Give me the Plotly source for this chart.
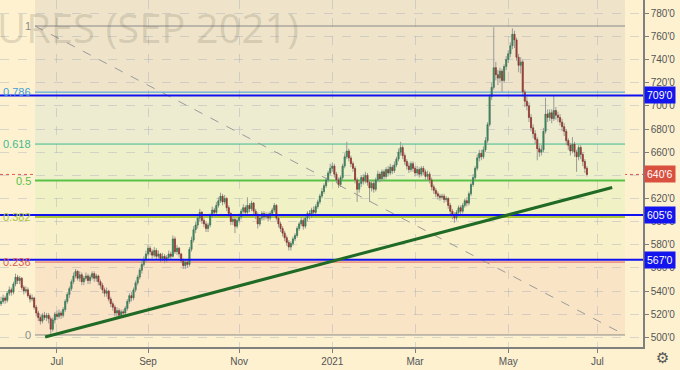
import pandas as pd
import plotly.graph_objects as go

# ---------------- data ----------------
start_date = "2020-05-25"
first_open = 529

closes = [
    531, 534, 532, 538, 541, 539, 546, 552, 549, 551, 543, 540, 541, 536, 533, 534, 526, 521, 517, 514, 519, 517, 519, 516, 507, 515, 520, 518,
    521, 519, 524, 531, 537, 542, 548, 553, 557, 551, 554, 548, 551, 553, 549, 552, 555, 551, 553, 548, 545,
    541, 538, 540, 533, 529, 526, 521, 523, 519, 522, 521, 525, 531, 536, 534, 541, 547, 552, 558, 563, 567, 572, 577, 574,
    571, 575, 570, 572, 568, 570, 567, 569, 572, 570, 585, 574, 577, 572, 566, 562, 565, 563, 576, 584, 593,
    597, 603, 608, 601, 598, 594, 597, 605, 610, 608, 614, 618, 622, 617, 620, 612, 607, 600, 602, 596, 601, 604,
    609, 612, 608, 614, 611, 616, 609, 606, 598, 603, 607, 604, 606, 603, 607, 610, 614, 603, 598, 594, 590, 586, 582, 578, 581, 585, 588, 594, 598, 601, 596,
    603, 607, 605, 610, 608, 613, 617, 622, 626, 631, 636, 642, 646, 648, 641, 636, 632, 638, 648, 656, 661, 655, 650, 646, 636, 628, 633, 638, 635, 640, 634, 629, 633, 628, 636, 641, 637,
    643, 639, 645, 642, 647, 644, 649, 654, 660, 664, 657, 652, 648, 645, 650, 646, 642, 645, 641, 646, 643, 639, 641, 636, 630, 627, 624, 622, 621, 622, 619, 620, 614, 609, 606, 603, 608, 612, 609, 614, 618, 616, 624, 632,
    638, 646, 655, 659, 656, 662, 670, 684, 708, 716, 733, 727, 724, 730, 722, 734, 740, 745, 752, 762, 757, 742, 735, 738, 712, 704, 700, 690, 681, 676, 671, 663, 660, 662, 678, 693, 690, 694, 689, 696, 692, 690, 686, 682, 678, 670, 666, 661, 667, 660, 656, 664, 658, 652, 646, 640.75,
]

highs = [
    535, 537, 536, 540, 544, 543, 548, 555, 554, 553, 552, 545, 544, 543, 538, 537, 535, 528, 523, 519, 521, 522, 521, 521, 518, 517, 522, 523,
    524, 523, 526, 533, 539, 544, 550, 556, 559, 558, 557, 556, 553, 556, 555, 554, 557, 557, 555, 554, 550,
    547, 543, 543, 541, 535, 531, 528, 526, 525, 524, 524, 527, 533, 538, 539, 543, 549, 554, 560, 566, 570, 575, 580, 579,
    576, 578, 577, 575, 573, 573, 572, 571, 575, 574, 588, 587, 580, 578, 573, 568, 567, 567, 578, 587, 596,
    600, 606, 611, 609, 603, 600, 599, 607, 613, 612, 617, 621, 625, 624, 623, 621, 614, 608, 605, 603, 603, 607,
    611, 615, 614, 621, 616, 618, 617, 611, 608, 605, 609, 609, 608, 608, 609, 612, 616, 615, 605, 600, 596, 592, 588, 584, 583, 587, 590, 596, 600, 604, 603,
    605, 609, 610, 612, 613, 615, 619, 624, 629, 633, 638, 644, 650, 651, 650, 643, 638, 640, 650, 659, 669, 663, 657, 652, 648, 638, 635, 640, 641, 643, 642, 636, 635, 635, 638, 644, 643,
    645, 645, 647, 648, 650, 649, 652, 656, 663, 669, 666, 659, 654, 651, 652, 652, 648, 648, 647, 648, 648, 645, 644, 643, 638, 632, 629, 626, 624, 624, 624, 622, 621, 616, 611, 608, 610, 614, 614, 616, 620, 621, 626, 634,
    641, 648, 658, 662, 662, 665, 673, 686, 710, 720, 768, 738, 731, 733, 732, 736, 743, 748, 755, 767, 765, 759, 745, 742, 740, 714, 708, 703, 693, 684, 679, 673, 666, 666, 681, 707, 697, 697, 697, 709, 699, 695, 693, 689, 685, 680, 672, 668, 673, 669, 662, 666, 666, 660, 654, 648,
]

lows = [
    527, 529, 529, 530, 536, 536, 537, 544, 546, 546, 541, 537, 538, 534, 530, 531, 524, 518, 514, 511, 512, 515, 514, 512, 502.5, 505, 512, 515,
    516, 516, 517, 522, 529, 534, 540, 546, 551, 549, 548, 545, 545, 549, 546, 546, 550, 548, 548, 545, 542,
    538, 535, 535, 531, 526, 523, 518, 517, 516, 517, 518, 519, 523, 529, 531, 532, 539, 545, 550, 555, 561, 565, 570, 571,
    568, 569, 567, 568, 565, 566, 564, 565, 567, 567, 569, 572, 571, 569, 564, 559, 559, 560, 561, 574, 582,
    590, 594, 600, 598, 595, 591, 591, 595, 603, 605, 606, 612, 616, 614, 615, 609, 604, 597, 597, 590, 594, 599,
    602, 607, 605, 606, 608, 609, 606, 602, 594, 596, 601, 601, 602, 600, 601, 605, 608, 601, 595, 591, 587, 583, 579, 575, 575, 579, 583, 586, 592, 596, 593,
    594, 600, 602, 603, 605, 606, 611, 615, 620, 624, 629, 634, 640, 643, 638, 633, 629, 630, 636, 646, 654, 652, 647, 643, 633, 617, 625, 630, 632, 633, 631, 617, 626, 625, 626, 634, 634,
    635, 636, 637, 639, 640, 641, 642, 647, 652, 657, 654, 649, 645, 642, 643, 643, 639, 640, 638, 639, 640, 636, 636, 633, 627, 624, 621, 619, 618, 619, 616, 617, 611, 606, 602, 599, 601, 606, 606, 607, 612, 613, 614, 622,
    630, 636, 644, 652, 653, 654, 660, 668, 682, 705, 714, 722, 718, 720, 712, 720, 731, 737, 742, 749, 750, 739, 729, 728, 708, 699, 696, 686, 678, 672, 667, 653, 656, 657, 660, 676, 686, 687, 685, 687, 688, 686, 683, 678, 674, 666, 662, 657, 659, 656, 643, 653, 654, 648, 642, 639,
]

# Fibonacci retracement drawing
fib_low, fib_high = 502.0, 769.0
fib_ratios = [0, 0.236, 0.382, 0.5, 0.618, 0.786, 1]
fib_labels = ["0", "0.236", "0.382", "0.5", "0.618", "0.786", "1"]
fib_line_colors = ["#8a8a8a", "#e05a52", "#a9c43c", "#58c247", "#3dbb8e", "#3f9fd8", "#8a8a8a"]
fib_line_widths = [1, 1, 2, 2, 1, 1, 1]
fib_zone_colors = ["#fae4c6", "#f7f0c9", "#f1f1c6", "#eef0cc", "#eeecd0", "#efe4ca"]
fib_start, fib_end = "2020-06-16 09:36", "2021-07-20 09:36"

# Horizontal levels and current price
level_prices = [709.0, 605.75, 567.0]
level_texts = ["709'0", "605'6", "567'0"]
last_price = 640.75
last_text = "640'6"

# Trend line
trend_x = ["2020-06-23 07:00", "2021-07-12 05:00"]
trend_y = [500.3, 629.5]

# Axis ticks
ytick_vals = list(range(500, 781, 20))
ytick_text = [f"{v}'0" for v in ytick_vals]
xtick_vals = ["2020-07-01", "2020-09-01", "2020-11-02", "2021-01-04", "2021-03-01", "2021-05-03", "2021-07-01"]
xtick_text = ["Jul", "Sep", "Nov", "2021", "Mar", "May", "Jul"]

x_range = ["2020-05-22 12:00", "2021-08-02 02:00"]
y_range = [491.6, 791.5]

# ---------------- figure ----------------
dates = pd.bdate_range(start_date, periods=len(closes))
opens = [first_open] + closes[:-1]
body_hi = [max(o, c) for o, c in zip(opens, closes)]
body_lo = [min(o, c) for o, c in zip(opens, closes)]
highs_c = [max(h, b) for h, b in zip(highs, body_hi)]
lows_c = [min(l, b) for l, b in zip(lows, body_lo)]

BG = "#fdf1d0"
FONT = "Liberation Sans"

fig = go.Figure()

# wicks (gray)
fig.add_trace(go.Candlestick(
    x=dates, open=opens, high=highs_c, low=lows_c, close=closes,
    increasing=dict(line=dict(color="#9a9a96", width=1), fillcolor="#9a9a96"),
    decreasing=dict(line=dict(color="#9a9a96", width=1), fillcolor="#9a9a96"),
    showlegend=False, hoverinfo="skip",
))
# bodies (colored)
fig.add_trace(go.Candlestick(
    x=dates, open=opens, high=body_hi, low=body_lo, close=closes,
    increasing=dict(line=dict(color="#2c7a4e", width=0.5), fillcolor="#3b8f60"),
    decreasing=dict(line=dict(color="#8a2c22", width=0.5), fillcolor="#b53b2d"),
    showlegend=False, hoverinfo="skip",
))

shapes = []
levels = [fib_low + r * (fib_high - fib_low) for r in fib_ratios]
# zones
for k in range(len(levels) - 1):
    y0 = levels[k]
    y1 = levels[k + 1] if k + 1 < len(levels) - 1 else y_range[1] + 10
    shapes.append(dict(type="rect", xref="x", yref="y", x0=fib_start, x1=fib_end,
                       y0=y0, y1=y1, fillcolor=fib_zone_colors[k], line=dict(width=0), layer="below"))
# level lines
for lv, col, w in zip(levels, fib_line_colors, fib_line_widths):
    shapes.append(dict(type="line", xref="x", yref="y", x0=fib_start, x1=fib_end, y0=lv, y1=lv,
                       line=dict(color=col, width=w), layer="between"))
# diagonal of fib drawing
shapes.append(dict(type="line", xref="x", yref="y", x0=fib_start, x1=fib_end,
                   y0=fib_high, y1=fib_low, line=dict(color="#9a9a9a", width=1, dash="dash"), layer="between"))
# current price dotted line
shapes.append(dict(type="line", xref="paper", yref="y", x0=0, x1=1, y0=last_price, y1=last_price,
                   line=dict(color="#e2584a", width=1, dash="dot"), layer="between"))
# blue horizontal levels
for p in level_prices:
    shapes.append(dict(type="line", xref="paper", yref="y", x0=0, x1=1, y0=p, y1=p,
                       line=dict(color="#1010f0", width=2), layer="above"))
# trend line
shapes.append(dict(type="line", xref="x", yref="y", x0=trend_x[0], x1=trend_x[1],
                   y0=trend_y[0], y1=trend_y[1], line=dict(color="#1f6a24", width=3), layer="above"))

annotations = []
# watermark
annotations.append(dict(xref="paper", yref="paper", x=0, y=1, xanchor="left", yanchor="top",
                        xshift=-5, yshift=2, text="URES (SEP 2021)", showarrow=False,
                        font=dict(size=40, color="rgba(110,100,80,0.2)", family="Open Sans")))
# fib labels
for lv, lab, col in zip(levels, fib_labels, fib_line_colors):
    annotations.append(dict(xref="x", yref="y", x=fib_start, y=lv, xanchor="right", yanchor="middle",
                            xshift=-2, text=lab, showarrow=False, font=dict(size=11, color=col, family=FONT)))
# right axis boxes
for p, t in zip(level_prices, level_texts):
    annotations.append(dict(xref="paper", yref="y", x=1, y=p, xanchor="left", yanchor="middle",
                            xshift=1, text=t, showarrow=False, bgcolor="#1414ee", borderpad=2,
                            font=dict(size=10.5, color="white", family=FONT)))
annotations.append(dict(xref="paper", yref="y", x=1, y=last_price, xanchor="left", yanchor="middle",
                        xshift=1, text=last_text, showarrow=False, bgcolor="#d9503f", borderpad=2,
                        font=dict(size=10.5, color="white", family=FONT)))
# gear icon
annotations.append(dict(xref="paper", yref="paper", x=1, y=0, xanchor="center", yanchor="middle",
                        xshift=19, yshift=-11, text="⚙", showarrow=False,
                        font=dict(size=15, color="#555555", family="DejaVu Sans")))

fig.update_layout(
    width=680, height=370,
    margin=dict(l=0, r=37, t=0, b=23),
    paper_bgcolor=BG, plot_bgcolor=BG,
    font=dict(family=FONT, size=10, color="#555555"),
    shapes=shapes, annotations=annotations,
    showlegend=False,
)
fig.update_xaxes(
    type="date", range=x_range,
    rangebreaks=[dict(bounds=["sat", "mon"])],
    rangeslider=dict(visible=False),
    tickmode="array", tickvals=xtick_vals, ticktext=xtick_text,
    showgrid=True, gridcolor="rgba(150,160,185,0.35)", griddash="dash", gridwidth=1,
    showline=True, linecolor="#7f7f7f", linewidth=1.5,
    ticks="outside", ticklen=4, tickcolor="#7f7f7f",
    tickfont=dict(size=10, color="#555555", family=FONT),
    zeroline=False, fixedrange=True,
)
fig.update_yaxes(
    side="right", range=y_range,
    tickmode="array", tickvals=ytick_vals, ticktext=ytick_text,
    showgrid=True, gridcolor="rgba(150,160,185,0.35)", griddash="dash", gridwidth=1,
    showline=True, linecolor="#7f7f7f", linewidth=1.5,
    ticks="outside", ticklen=4, tickcolor="#7f7f7f",
    tickfont=dict(size=10, color="#555555", family=FONT),
    zeroline=False, fixedrange=True,
)

fig.write_html(
    "out.html",
    config={"displayModeBar": False},
    post_script="document.body.style.margin='0';document.body.style.padding='0';"
                "document.body.style.background='" + BG + "';",
)
